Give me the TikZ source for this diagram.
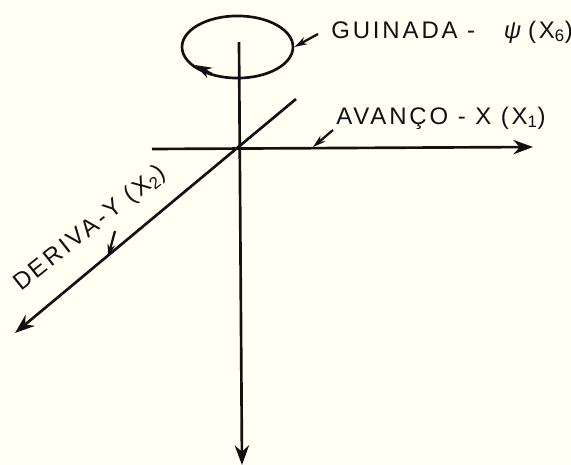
\documentclass[tikz,border=0pt]{standalone}
\usepackage{fontspec}
\setmainfont{Liberation Sans}[LetterSpace=12]
\usepackage{xcolor}
\definecolor{qpaper}{HTML}{FFFFF4}
\definecolor{qink}{HTML}{111111}
\usetikzlibrary{arrows.meta,positioning,calc,shapes.geometric}
\begin{document}
\begin{tikzpicture}[x=0.0264cm,y=-0.0264cm,
  axisline/.style={-{Stealth[length=5.2mm,width=3.8mm]},line width=2pt,qink},
  leader/.style={-{Stealth[length=3.4mm,width=2mm]},line width=1.7pt,qink},
  lab/.style={font=\fontsize{18}{20}\selectfont,text=qink,inner sep=0pt}]
\fill[qpaper] (0,0) rectangle (571,465);
\useasboundingbox (0,0) rectangle (571,465);
\coordinate (top) at (239,42);
\coordinate (bot) at (242,465);
\coordinate (west) at (152,149);
\coordinate (east) at (533,147);
\coordinate (ne) at (296,99);
\coordinate (sw) at (15,333);
\draw[axisline] (top) -- (bot);
\draw[axisline] (west) -- (east);
\draw[axisline] (ne) -- (sw);
\node[ellipse,draw=qink,line width=2pt,minimum width=2.93cm,minimum height=1.64cm,inner sep=0pt] (loop) at (237.5,47) {};
\coordinate (lstart) at (212,74);
\coordinate (lend) at (195,65);
\draw[leader,-{Stealth[length=4.4mm,width=3mm]}] (lstart) -- (lend);
\node[lab,anchor=west] (guinada) at (331,32) {GUINADA -\ \ \ \textit{ψ}\,(X\textsubscript{6})};
\node[lab,anchor=west] (avanco) at (336,118) {AVANÇO - X (X\textsubscript{1})};
\node[lab,rotate=38.5] (deriva) at (90,229) {DERIVA-Y (X\textsubscript{2})};
% pointers
\coordinate (gstart) at (318,34);
\coordinate (astart) at (333,130);
\coordinate (dstart) at (115,231);
\coordinate (aend) at (313,147);
\coordinate (dend) at (108,257);
\draw[leader] (gstart) -- (loop.east);
\draw[leader] (astart) -- (aend);
\draw[leader] (dstart) -- (dend);
\end{tikzpicture}
\end{document}
